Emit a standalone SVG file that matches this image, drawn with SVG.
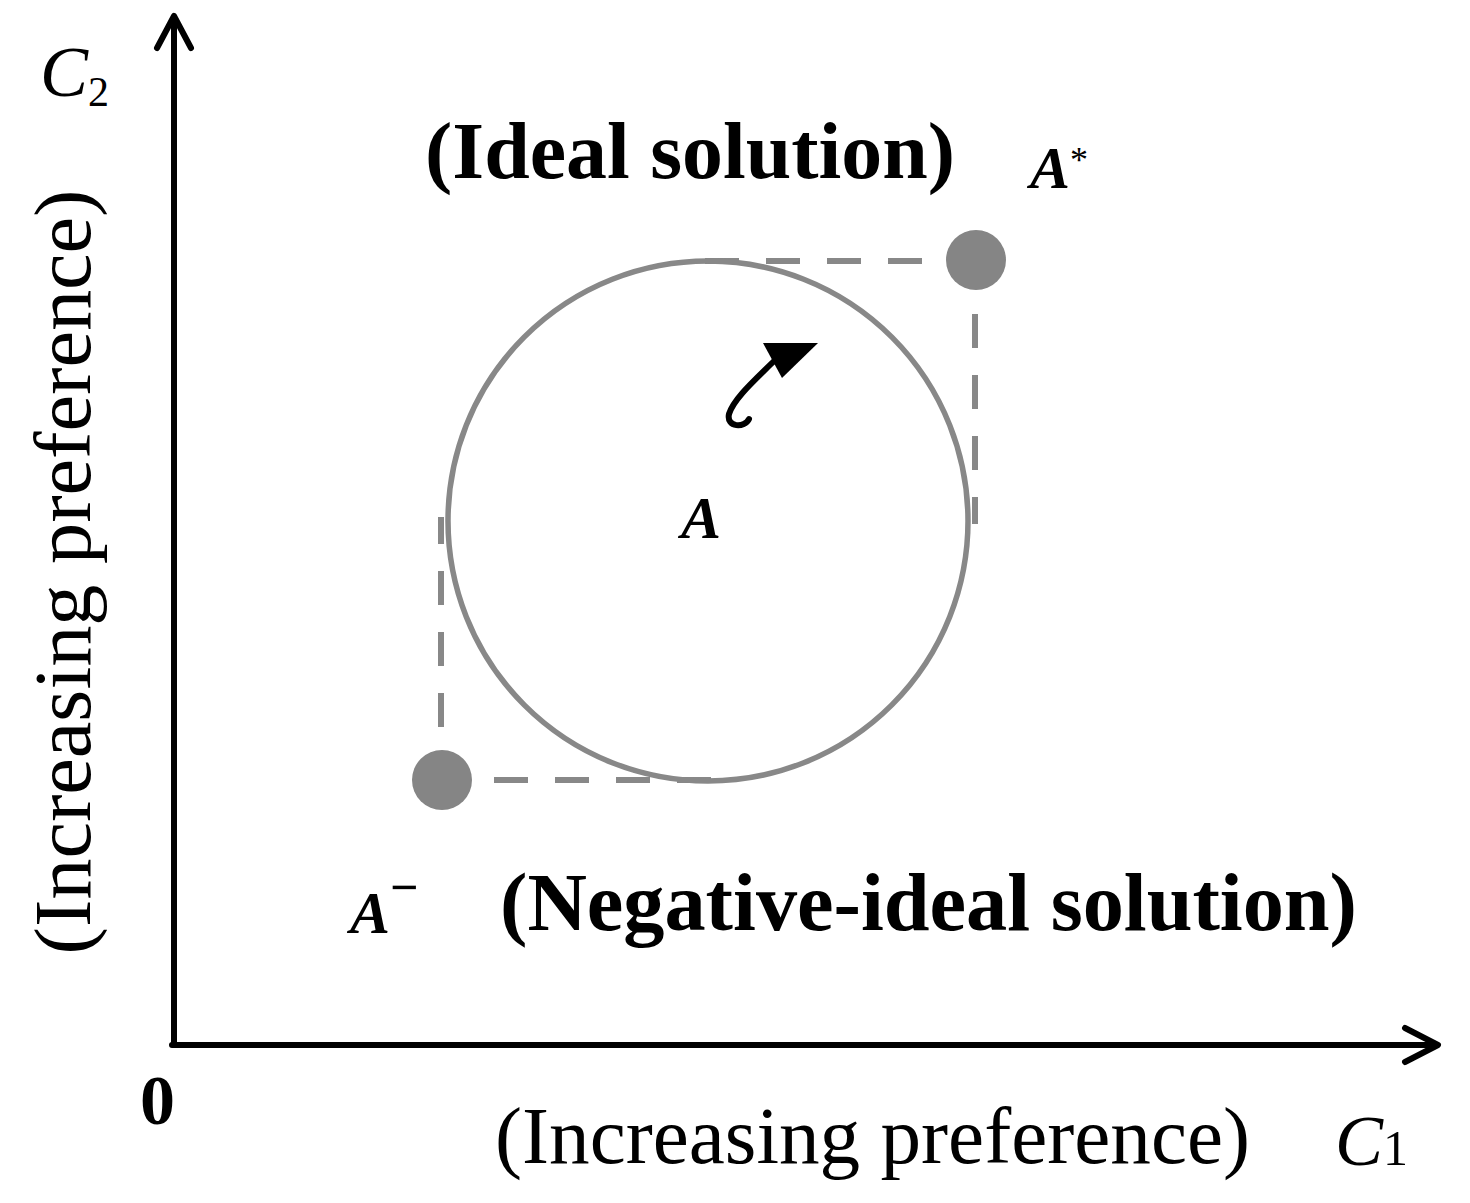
<svg xmlns="http://www.w3.org/2000/svg" width="1470" height="1203" viewBox="0 0 1470 1203">
<style>
.serif{font-family:"Liberation Serif","Times New Roman",serif;fill:#000}
.b{font-weight:bold}
.i{font-style:italic}
.axis{fill:none;stroke:#000;stroke-width:6;stroke-linecap:round;stroke-linejoin:round}
.dash{fill:none;stroke:#888;stroke-width:6;stroke-dasharray:34 27}
.pt{fill:#858585}
</style>
<rect width="1470" height="1203" fill="#fff"/>
<g id="connectors">
  <path class="axis" d="M174,1045 V18 M157,48 L174,16 L191,48"/>
  <path class="axis" d="M172,1045 H1436 M1405,1028 L1438,1045 L1405,1062"/>
  <path class="dash" d="M441,788 V517"/>
  <path class="dash" d="M433,780 H711"/>
  <path class="dash" d="M983,261 H705"/>
  <path class="dash" d="M975,253 V524"/>
  <path d="M775,360 C756,379 734,398 729,414 C726,428 745,428 749,419" fill="none" stroke="#000" stroke-width="6" stroke-linecap="round"/>
  <polygon points="763,343 818,343 782,378" fill="#000"/>
</g>
<g id="circle-A">
  <circle cx="708" cy="521" r="260" fill="none" stroke="#888" stroke-width="5.5"/>
  <text class="serif b i" x="681" y="538" font-size="60">A</text>
</g>
<g id="ideal">
  <circle class="pt" cx="976" cy="260" r="30"/>
  <text class="serif b" x="425" y="178" font-size="80" textLength="530" lengthAdjust="spacingAndGlyphs">(Ideal solution)</text>
  <text class="serif b i" x="1030" y="188" font-size="60">A<tspan font-size="36" font-style="normal" font-weight="normal" dy="-16">*</tspan></text>
</g>
<g id="negative-ideal">
  <circle class="pt" cx="442" cy="780" r="30"/>
  <text class="serif b i" x="350" y="933" font-size="60">A<tspan font-size="50" font-style="normal" font-weight="bold" dy="-29">−</tspan></text>
  <text class="serif b" x="500" y="930" font-size="82" textLength="857" lengthAdjust="spacingAndGlyphs">(Negative-ideal solution)</text>
</g>
<g id="labels">
  <text class="serif i" x="40" y="96" font-size="72">C<tspan font-style="normal" font-size="42" dy="10">2</tspan></text>
  <text class="serif i" x="1335" y="1165" font-size="72">C<tspan font-style="normal" font-size="50" dy="0">1</tspan></text>
  <text class="serif b" x="140" y="1124" font-size="70">0</text>
  <text class="serif" x="495" y="1163" font-size="80" textLength="755" lengthAdjust="spacingAndGlyphs">(Increasing preference)</text>
  <text class="serif" transform="translate(90,572) rotate(-90)" text-anchor="middle" font-size="80" textLength="765" lengthAdjust="spacingAndGlyphs">(Increasing preference)</text>
</g>
</svg>
